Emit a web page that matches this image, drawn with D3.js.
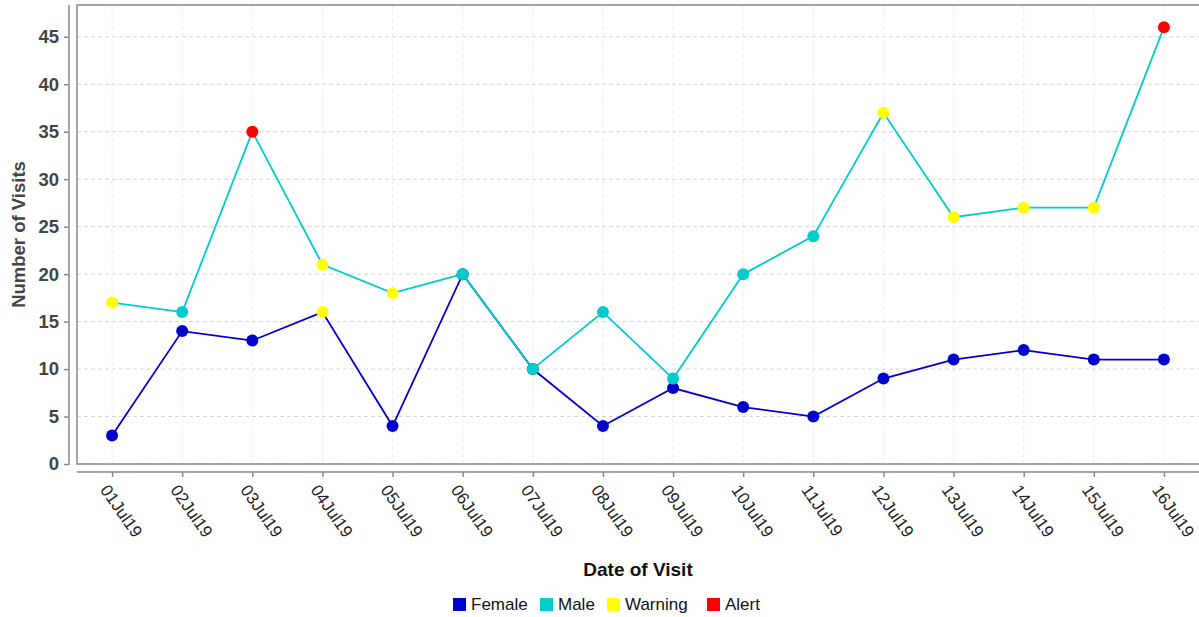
<!DOCTYPE html>
<html>
<head>
<meta charset="utf-8">
<script src="https://cdn.jsdelivr.net/npm/d3@7"></script>
<style>
  body { margin: 0; background: #fff; }
  svg { display: block; font-family: "Liberation Sans", Arial, sans-serif; }
</style>
</head>
<body>
<svg id="drawing_region"></svg>
<script>
const dates = ["01Jul19", "02Jul19", "03Jul19", "04Jul19", "05Jul19", "06Jul19", "07Jul19", "08Jul19",
               "09Jul19", "10Jul19", "11Jul19", "12Jul19", "13Jul19", "14Jul19", "15Jul19", "16Jul19"];
const female = [3, 14, 13, 16, 4, 20, 10, 4, 8, 6, 5, 9, 11, 12, 11, 11];
const male = [17, 16, 35, 21, 18, 20, 10, 16, 9, 20, 24, 37, 26, 27, 27, 46];
// flag per point: "" normal, "W" warning, "A" alert
const femaleFlags = ["", "", "", "W", "", "", "", "", "", "", "", "", "", "", "", ""];
const maleFlags = ["W", "", "A", "W", "W", "", "", "", "", "", "", "W", "W", "W", "W", "A"];
const yTicks = [0, 5, 10, 15, 20, 25, 30, 35, 40, 45];
const legendItems = ["Female", "Male", "Warning", "Alert"];

const colors = { Female: "#0000cd", Male: "#00cccc", Warning: "#ffff00", Alert: "#ff0000" };

const width = 1199, height = 617;
const panel = { left: 77, top: 5, right: 1199, bottom: 464 };

const svg = d3.select("#drawing_region")
    .attr("width", width)
    .attr("height", height);

const xscale = d3.scaleLinear()
    .domain([-0.5, dates.length - 0.5])
    .range([panel.left, panel.right]);

const yscale = d3.scaleLinear()
    .domain([0, 48.35])
    .range([panel.bottom, panel.top]);

// grid
const grid = svg.append("g");
grid.selectAll(".hgrid").data(yTicks).join("line")
    .attr("x1", panel.left).attr("x2", panel.right)
    .attr("y1", d => yscale(d)).attr("y2", d => yscale(d))
    .attr("stroke", "#d4d4d4").attr("stroke-dasharray", "4,3");
grid.selectAll(".vgrid").data(dates).join("line")
    .attr("x1", (d, i) => xscale(i)).attr("x2", (d, i) => xscale(i))
    .attr("y1", panel.top).attr("y2", panel.bottom)
    .attr("stroke", "#ececec").attr("stroke-dasharray", "4,3");

// panel frame
svg.append("rect")
    .attr("x", panel.left).attr("y", panel.top)
    .attr("width", panel.right - panel.left + 2).attr("height", panel.bottom - panel.top)
    .attr("fill", "none").attr("stroke", "#888").attr("stroke-width", 1.5);

// y axis (offset from panel)
const yaxis = d3.axisLeft(yscale).tickValues(yTicks).tickSize(5).tickPadding(5).tickSizeOuter(0);
const yaxis_group = svg.append("g")
    .attr("transform", `translate(69,0)`)
    .call(yaxis);
yaxis_group.select(".domain").attr("stroke", "#888").attr("stroke-width", 1.5)
    .attr("d", `M0,${panel.top}V${panel.bottom + 1}`);
yaxis_group.selectAll(".tick line").attr("stroke", "#888").attr("stroke-width", 1.5);
yaxis_group.selectAll(".tick text")
    .attr("fill", "#444").attr("font-size", "18.5px").attr("font-weight", "bold")
    .attr("font-family", "Liberation Sans, Arial, sans-serif");

// x axis (offset from panel)
const xaxis = d3.axisBottom(xscale).tickValues(d3.range(dates.length))
    .tickFormat(i => dates[i]).tickSize(5).tickSizeOuter(0);
const xaxis_group = svg.append("g")
    .attr("transform", `translate(0,472)`)
    .call(xaxis);
xaxis_group.select(".domain").attr("stroke", "#888").attr("stroke-width", 1.5)
    .attr("d", `M${panel.left},0H${panel.right}`);
xaxis_group.selectAll(".tick line").attr("stroke", "#888").attr("stroke-width", 1.5);
xaxis_group.selectAll(".tick text")
    .attr("fill", "#222").attr("font-size", "17px")
    .attr("font-family", "Liberation Sans, Arial, sans-serif")
    .attr("text-anchor", "start")
    .attr("y", 0).attr("dy", 0)
    .attr("transform", "translate(-13,18) rotate(55)");

// axis titles
svg.append("text")
    .attr("transform", `translate(25, ${(panel.top + panel.bottom) / 2}) rotate(-90)`)
    .attr("text-anchor", "middle")
    .attr("fill", "#444").attr("font-size", "18.5px").attr("font-weight", "bold")
    .text("Number of Visits");

svg.append("text")
    .attr("x", (panel.left + panel.right) / 2).attr("y", 576)
    .attr("text-anchor", "middle")
    .attr("fill", "#111").attr("font-size", "19px").attr("font-weight", "bold")
    .text("Date of Visit");

// lines
const line = d3.line().x((d, i) => xscale(i)).y(d => yscale(d));
const series = [
    { name: "Female", values: female, flags: femaleFlags },
    { name: "Male", values: male, flags: maleFlags }
];
const chart = svg.append("g");
series.forEach(s => {
    chart.append("path")
        .datum(s.values)
        .attr("fill", "none")
        .attr("stroke", colors[s.name])
        .attr("stroke-width", 1.8)
        .attr("d", line);
});
series.forEach(s => {
    chart.append("g").selectAll("circle").data(s.values).join("circle")
        .attr("cx", (d, i) => xscale(i))
        .attr("cy", d => yscale(d))
        .attr("r", 6)
        .attr("fill", (d, i) => s.flags[i] === "A" ? colors.Alert : s.flags[i] === "W" ? colors.Warning : colors[s.name]);
});

// legend
const legendX = [453, 540, 607, 707];
const legend = svg.append("g");
legendItems.forEach((name, i) => {
    legend.append("rect")
        .attr("x", legendX[i]).attr("y", 598)
        .attr("width", 13).attr("height", 13)
        .attr("fill", colors[name]);
    legend.append("text")
        .attr("x", legendX[i] + 18).attr("y", 610)
        .attr("fill", "#111").attr("font-size", "17px")
        .text(name);
});
</script>
</body>
</html>
